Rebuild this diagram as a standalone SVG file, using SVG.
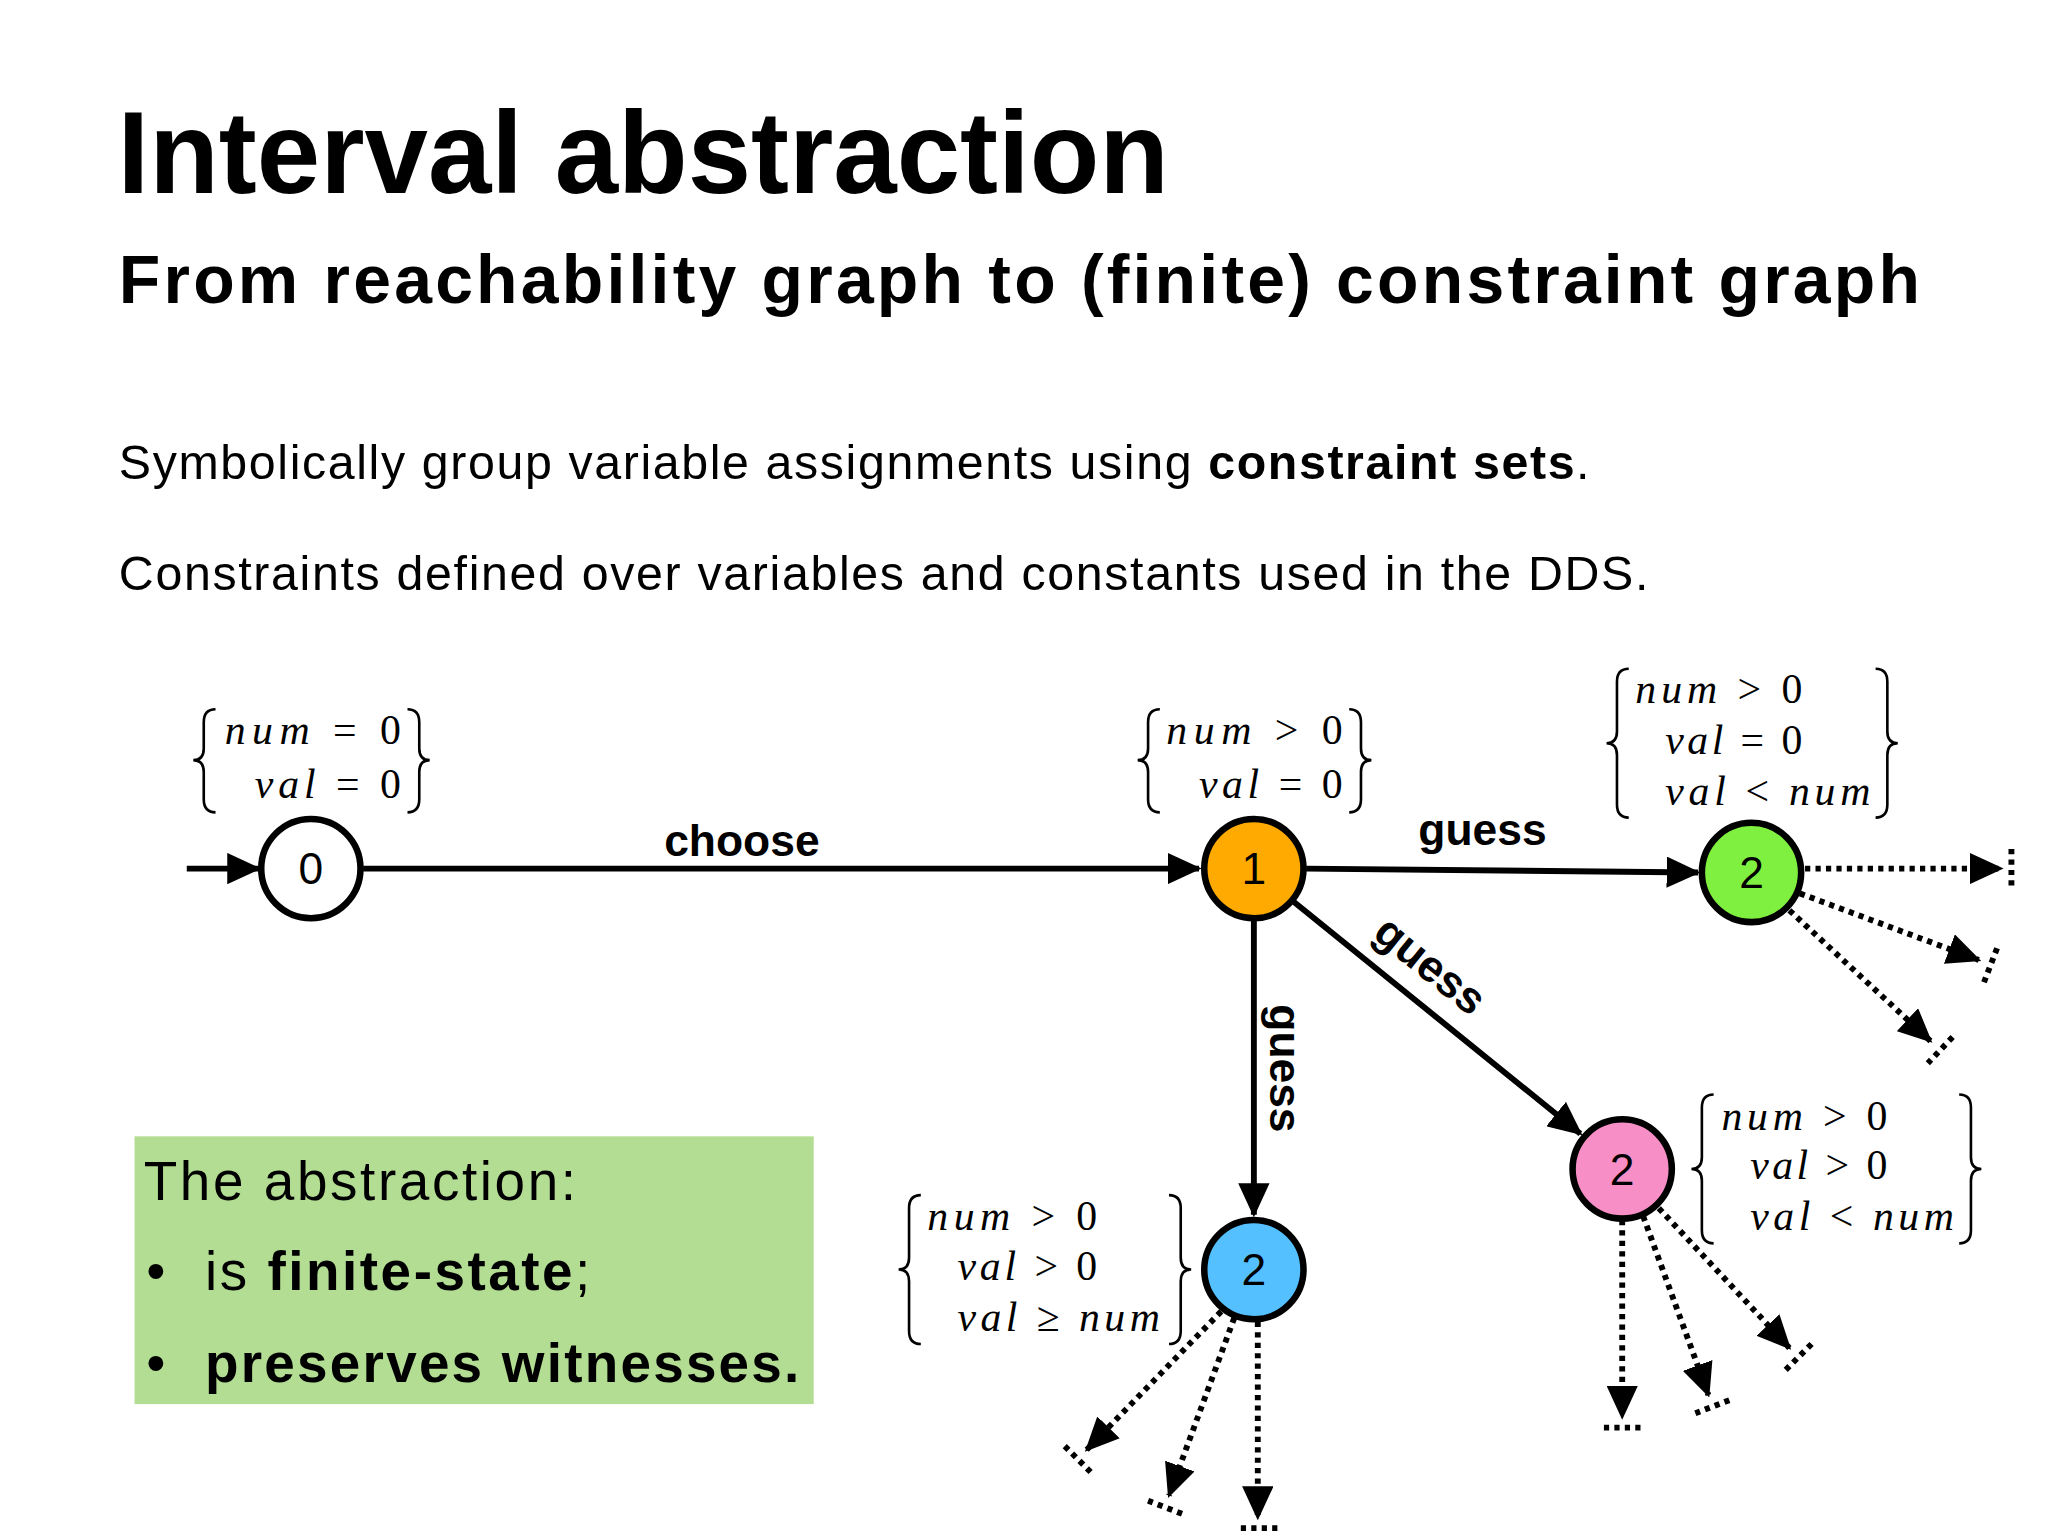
<svg xmlns="http://www.w3.org/2000/svg" width="2048" height="1536" viewBox="0 0 2048 1536">
<style>
.h{font-family:"Liberation Sans",Arial,sans-serif;fill:#000}
.m{font-family:"Liberation Serif","DejaVu Serif",serif;font-size:32px;fill:#000}
.i{font-style:italic}
.e{stroke:#000;stroke-width:4.5;fill:none}
.d{stroke:#000;stroke-width:4.5;fill:none;stroke-dasharray:4 4}
.br{stroke:#000;stroke-width:2;fill:none}
.n{stroke:#000;stroke-width:5}
.lbl{font-family:"Liberation Sans",Arial,sans-serif;font-weight:bold;font-size:34px;text-anchor:middle}
.num{font-family:"Liberation Sans",Arial,sans-serif;font-size:34px;text-anchor:middle}
</style>
<defs>
<marker id="a" markerUnits="userSpaceOnUse" markerWidth="26" markerHeight="24" refX="24" refY="12" orient="auto"><path d="M0,0 L26,12 L0,24 Z" fill="#000"/></marker>
</defs>
<rect width="2048" height="1536" fill="#fff"/>
<g transform="scale(1.30612)">
<g id="text">
<text class="h" x="90" y="148" font-size="90" font-weight="bold" textLength="805" lengthAdjust="spacingAndGlyphs">Interval abstraction</text>
<text class="h" x="91" y="232" font-size="52" font-weight="bold" textLength="1379" lengthAdjust="spacing">From reachability graph to (finite) constraint graph</text>
<text class="h" x="91" y="367" font-size="37" textLength="1126" lengthAdjust="spacing">Symbolically group variable assignments using <tspan font-weight="bold">constraint sets</tspan>.</text>
<text class="h" x="91" y="452" font-size="37" textLength="1171" lengthAdjust="spacing">Constraints defined over variables and constants used in the DDS.</text>
</g>
<g id="box">
<rect x="103" y="870" width="520" height="205" fill="#B3DD92"/>
<text class="h" x="110" y="919" font-size="42" textLength="331" lengthAdjust="spacing">The abstraction:</text>
<text class="h" x="112" y="988" font-size="42">•</text>
<text class="h" x="157" y="988" font-size="42" textLength="295" lengthAdjust="spacing">is <tspan font-weight="bold">finite-state</tspan>;</text>
<text class="h" x="112" y="1058" font-size="42">•</text>
<text class="h" x="157" y="1058" font-size="42" font-weight="bold" textLength="455" lengthAdjust="spacing">preserves witnesses.</text>
</g>
<g id="connectors">
<line class="e" x1="143" y1="665" x2="198" y2="665" marker-end="url(#a)"/>
<line class="e" x1="278" y1="665" x2="918" y2="665" marker-end="url(#a)"/>
<text class="lbl" x="568" y="655">choose</text>
<line class="e" x1="1000" y1="665" x2="1300" y2="668" marker-end="url(#a)"/>
<text class="lbl" x="1135" y="647">guess</text>
<line class="e" x1="990" y1="690" x2="1210" y2="868" marker-end="url(#a)"/>
<text class="lbl" transform="translate(1088,748) rotate(39)">guess</text>
<line class="e" x1="960" y1="704" x2="960" y2="930" marker-end="url(#a)"/>
<text class="lbl" transform="translate(972,818) rotate(90)">guess</text>
<line class="d" x1="1382" y1="665" x2="1532" y2="665" marker-end="url(#a)"/>
<line class="d" x1="1540" y1="650" x2="1540" y2="680"/>
<line class="d" x1="1378" y1="684" x2="1515" y2="735" marker-end="url(#a)"/>
<line class="d" x1="1529" y1="726" x2="1519" y2="752"/>
<line class="d" x1="1370" y1="697" x2="1478" y2="797" marker-end="url(#a)"/>
<line class="d" x1="1495" y1="794" x2="1476" y2="814"/>
<line class="d" x1="1242" y1="934" x2="1242" y2="1085" marker-end="url(#a)"/>
<line class="d" x1="1228" y1="1093" x2="1256" y2="1093"/>
<line class="d" x1="1258" y1="931" x2="1308" y2="1068" marker-end="url(#a)"/>
<line class="d" x1="1324" y1="1072" x2="1298" y2="1082"/>
<line class="d" x1="1270" y1="925" x2="1370" y2="1032" marker-end="url(#a)"/>
<line class="d" x1="1387" y1="1029" x2="1367" y2="1049"/>
<line class="d" x1="963" y1="1012" x2="963" y2="1162" marker-end="url(#a)"/>
<line class="d" x1="950" y1="1170" x2="978" y2="1170"/>
<line class="d" x1="945" y1="1009" x2="895" y2="1145" marker-end="url(#a)"/>
<line class="d" x1="905" y1="1159" x2="879" y2="1149"/>
<line class="d" x1="935" y1="1004" x2="832" y2="1110" marker-end="url(#a)"/>
<line class="d" x1="835" y1="1127" x2="815" y2="1107"/>
</g>
<g id="n0">
<circle class="n" cx="238" cy="665" r="38" fill="#fff"/>
<text class="num" x="238" y="677">0</text>
<path class="br" d="M165,543 Q156,543 156,553 L156,573 Q156,582 148,582 Q156,582 156,591 L156,612 Q156,622 165,622"/>
<path class="br" d="M312,543 Q321,543 321,553 L321,573 Q321,582 329,582 Q321,582 321,591 L321,612 Q321,622 312,622"/>
<text class="m" x="172" y="570" textLength="135" lengthAdjust="spacing"><tspan class="i">num</tspan> = 0</text>
<text class="m" x="195" y="611" textLength="112" lengthAdjust="spacing"><tspan class="i">val</tspan> = 0</text>
</g>
<g id="n1">
<circle class="n" cx="960" cy="665" r="38" fill="#FFAA00"/>
<text class="num" x="960" y="677">1</text>
<path class="br" d="M888,543 Q879,543 879,553 L879,573 Q879,582 871,582 Q879,582 879,591 L879,612 Q879,622 888,622"/>
<path class="br" d="M1033,543 Q1042,543 1042,553 L1042,573 Q1042,582 1050,582 Q1042,582 1042,591 L1042,612 Q1042,622 1033,622"/>
<text class="m" x="893" y="570" textLength="135" lengthAdjust="spacing"><tspan class="i">num</tspan> &gt; 0</text>
<text class="m" x="918" y="611" textLength="110" lengthAdjust="spacing"><tspan class="i">val</tspan> = 0</text>
</g>
<g id="n2g">
<circle class="n" cx="1341" cy="668" r="38" fill="#80F040"/>
<text class="num" x="1341" y="680">2</text>
<path class="br" d="M1247,512 Q1238,512 1238,522 L1238,560 Q1238,569 1230,569 Q1238,569 1238,578 L1238,616 Q1238,626 1247,626"/>
<path class="br" d="M1436,512 Q1445,512 1445,522 L1445,560 Q1445,569 1453,569 Q1445,569 1445,578 L1445,616 Q1445,626 1436,626"/>
<text class="m" x="1252" y="538" textLength="128" lengthAdjust="spacing"><tspan class="i">num</tspan> &gt; 0</text>
<text class="m" x="1275" y="577" textLength="105" lengthAdjust="spacing"><tspan class="i">val</tspan> = 0</text>
<text class="m" x="1275" y="616" textLength="157" lengthAdjust="spacing"><tspan class="i">val</tspan> &lt; <tspan class="i">num</tspan></text>
</g>
<g id="n2p">
<circle class="n" cx="1242" cy="895" r="38" fill="#F78FC6"/>
<text class="num" x="1242" y="907">2</text>
<path class="br" d="M1312,838 Q1303,838 1303,848 L1303,886 Q1303,895 1295,895 Q1303,895 1303,904 L1303,942 Q1303,952 1312,952"/>
<path class="br" d="M1500,838 Q1509,838 1509,848 L1509,886 Q1509,895 1517,895 Q1509,895 1509,904 L1509,942 Q1509,952 1500,952"/>
<text class="m" x="1318" y="865" textLength="127" lengthAdjust="spacing"><tspan class="i">num</tspan> &gt; 0</text>
<text class="m" x="1340" y="903" textLength="105" lengthAdjust="spacing"><tspan class="i">val</tspan> &gt; 0</text>
<text class="m" x="1340" y="942" textLength="156" lengthAdjust="spacing"><tspan class="i">val</tspan> &lt; <tspan class="i">num</tspan></text>
</g>
<g id="n2b">
<circle class="n" cx="960" cy="972" r="38" fill="#55C0FF"/>
<text class="num" x="960" y="984">2</text>
<path class="br" d="M705,915 Q696,915 696,925 L696,963 Q696,972 688,972 Q696,972 696,981 L696,1019 Q696,1029 705,1029"/>
<path class="br" d="M895,915 Q904,915 904,925 L904,963 Q904,972 912,972 Q904,972 904,981 L904,1019 Q904,1029 895,1029"/>
<text class="m" x="710" y="942" textLength="130" lengthAdjust="spacing"><tspan class="i">num</tspan> &gt; 0</text>
<text class="m" x="733" y="980" textLength="107" lengthAdjust="spacing"><tspan class="i">val</tspan> &gt; 0</text>
<text class="m" x="733" y="1019" textLength="155" lengthAdjust="spacing"><tspan class="i">val</tspan> ≥ <tspan class="i">num</tspan></text>
</g>
</g>
</svg>
